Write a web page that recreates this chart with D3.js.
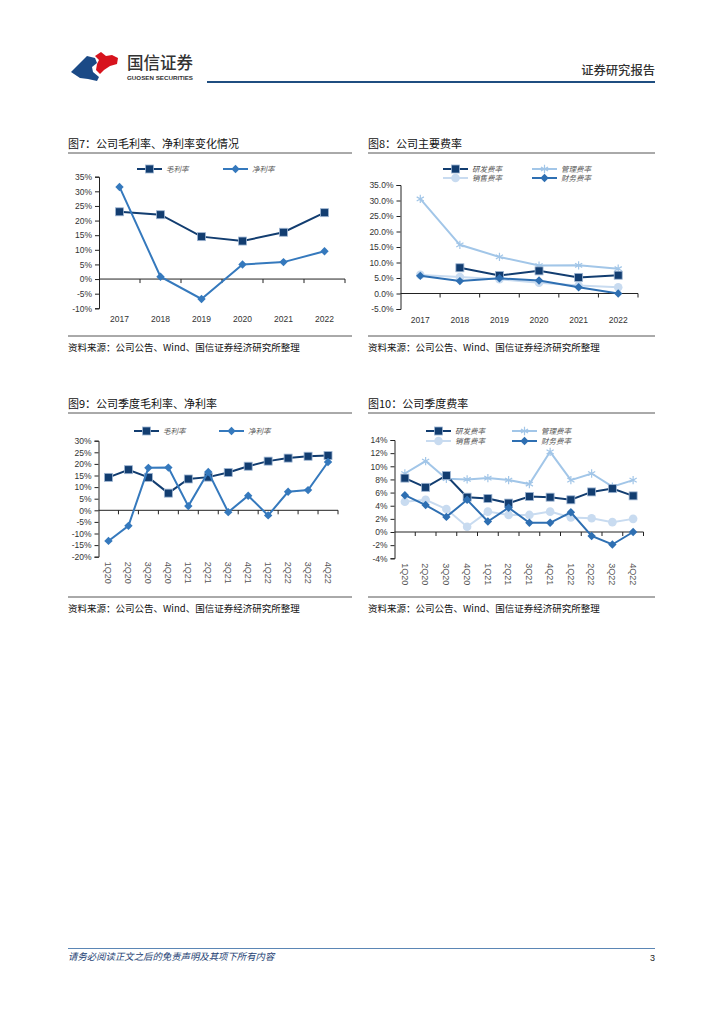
<!DOCTYPE html>
<html><head><meta charset="utf-8">
<script src="https://cdn.jsdelivr.net/npm/d3@7/dist/d3.min.js"></script>
<style>
html,body{margin:0;padding:0;background:#fff;}
svg{display:block;}
text{font-family:"Noto Sans CJK SC","Noto Sans",sans-serif;}
.num{font-family:"Liberation Sans",Arial,sans-serif;}
</style></head>
<body>
<svg id="page" width="724" height="1024"></svg>
<script>
// ---------- DATA ----------
const years = ["2017","2018","2019","2020","2021","2022"];
const quarters = ["1Q20","2Q20","3Q20","4Q20","1Q21","2Q21","3Q21","4Q21","1Q22","2Q22","3Q22","4Q22"];

// 图7 annual margins (%)
const annualGross = [23.0, 22.0, 14.5, 13.0, 16.0, 22.7];
const annualNet   = [31.5, 0.8, -6.8, 5.0, 5.8, 9.5];

// 图8 annual expense ratios (%)
const annualRD    = [null, 8.3, 5.8, 7.3, 5.2, 5.9];
const annualAdmin = [30.5, 15.7, 11.8, 9.0, 9.1, 8.0];
const annualSales = [6.0, 5.3, 4.6, 3.5, 2.6, 2.0];
const annualFin   = [5.7, 4.0, 4.9, 4.2, 2.0, 0.0];

// 图9 quarterly margins (%)
const qGross = [14.2, 17.5, 14.2, 7.4, 13.5, 14.3, 16.3, 19.0, 21.2, 22.5, 23.3, 23.6];
const qNet   = [-13.2, -6.7, 18.3, 18.4, 1.8, 16.5, -0.8, 6.3, -2.2, 8.0, 8.7, 20.8];

// 图10 quarterly expense ratios (%)
const qRD    = [8.2, 6.8, 8.6, 5.3, 5.1, 4.4, 5.4, 5.3, 4.9, 6.1, 6.6, 5.5];
const qAdmin = [8.9, 10.8, 8.1, 8.0, 8.2, 7.9, 7.3, 12.2, 7.9, 8.9, 6.9, 7.9];
const qSales = [4.6, 4.9, 3.5, 0.8, 3.1, 2.6, 2.6, 3.1, 2.2, 2.1, 1.5, 2.0];
const qFin   = [5.6, 4.1, 2.3, 4.9, 1.6, 3.7, 1.4, 1.4, 3.0, -0.6, -1.9, 0.0];

const ticks7  = [-10,-5,0,5,10,15,20,25,30,35];
const ticks8  = [-5,0,5,10,15,20,25,30,35];
const ticks9  = [-20,-15,-10,-5,0,5,10,15,20,25,30];
const ticks10 = [-4,-2,0,2,4,6,8,10,12,14];

const sourceText = "资料来源：公司公告、Wind、国信证券经济研究所整理";

// ---------- STYLES ----------
const C = {
  navy:"#123d70", mid:"#3579bd", light:"#a2c6e8", pale:"#c8dbf0"
};
const svg = d3.select("#page");

// ---------- HEADER ----------
const hdr = svg.append("g");
hdr.append("path").attr("d","M71,72 L87,56 L95,58 L97,63 L92,67 L93,72 L99,77 L97,81 L88,79 L80,78 Z").attr("fill","#1b4a86");
hdr.append("path").attr("d","M95,56 L101,52 L106,56 L112,55 L118,58 L117,64 L110,66 L104,70 L100,74 L96,70 L97,64 L99,60 Z").attr("fill","#d7131d");
hdr.append("text").attr("x",127).attr("y",69).attr("font-size",16.5).attr("fill","#333").attr("font-weight",500).text("国信证券");
hdr.append("text").attr("x",127).attr("y",80).attr("font-size",6.2).attr("fill","#333").attr("font-weight",700)
  .attr("class","num").attr("textLength",66).text("GUOSEN SECURITIES");
hdr.append("text").attr("x",655).attr("y",74.5).attr("text-anchor","end").attr("font-size",12.3).attr("fill","#333").attr("font-weight",500).text("证券研究报告");
hdr.append("line").attr("x1",207).attr("x2",655).attr("y1",82).attr("y2",82).attr("stroke","#1f4e80").attr("stroke-width",2.2);

// ---------- FOOTER ----------
svg.append("line").attr("x1",68).attr("x2",655).attr("y1",948.5).attr("y2",948.5).attr("stroke","#5b86b5").attr("stroke-width",1);
svg.append("text").attr("x",68).attr("y",960).attr("font-size",9.4).attr("font-style","italic").attr("fill","#1e3f74")
  .text("请务必阅读正文之后的免责声明及其项下所有内容");
svg.append("text").attr("x",655).attr("y",961).attr("text-anchor","end").attr("font-size",9).attr("class","num").attr("fill","#222").text("3");

// ---------- CHART HELPER ----------
function marker(g, type, color, x, y){
  if(type==="square"){
    g.append("rect").attr("x",x-4).attr("y",y-4).attr("width",8).attr("height",8)
      .attr("fill",color).attr("stroke","#9fb6d3").attr("stroke-width",0.8);
  } else if(type==="diamond"){
    g.append("path").attr("d","M0,-4.2L4.2,0L0,4.2L-4.2,0Z").attr("transform",`translate(${x},${y})`).attr("fill",color);
  } else if(type==="circle"){
    g.append("circle").attr("cx",x).attr("cy",y).attr("r",4.3).attr("fill",color);
  } else if(type==="asterisk"){
    g.append("path").attr("d",d3.symbol(d3.symbolAsterisk,48)()).attr("transform",`translate(${x},${y})`)
      .attr("fill","none").attr("stroke",color).attr("stroke-width",1.2);
  }
}

function drawChart(cfg){
  const g = svg.append("g");
  g.append("text").attr("x",cfg.left).attr("y",cfg.titleY).attr("font-size",11).attr("fill","#111").text(cfg.title);
  g.append("line").attr("x1",cfg.left).attr("x2",cfg.right).attr("y1",cfg.titleY+5).attr("y2",cfg.titleY+5).attr("stroke","#555").attr("stroke-width",1);
  g.append("line").attr("x1",cfg.left).attr("x2",cfg.right).attr("y1",cfg.srcY).attr("y2",cfg.srcY).attr("stroke","#555").attr("stroke-width",1);
  g.append("text").attr("x",cfg.left).attr("y",cfg.srcY+15).attr("font-size",9.5).attr("fill","#111").text(sourceText);

  const x = d3.scaleBand().domain(cfg.cats).range([cfg.x0,cfg.x1]).paddingInner(0).paddingOuter(0);
  const y = d3.scaleLinear().domain([cfg.ticks[0], cfg.ticks[cfg.ticks.length-1]]).range([cfg.yBottom,cfg.yTop]);

  const ya = g.append("g").attr("transform",`translate(${cfg.x0},0)`)
    .call(d3.axisLeft(y).tickValues(cfg.ticks).tickSize(4).tickPadding(3).tickFormat(cfg.fmt));
  ya.selectAll("text").attr("class","num").attr("font-size",8.5).attr("fill","#333").attr("font-family","Liberation Sans, Arial, sans-serif");
  ya.selectAll("line,path").attr("stroke","#222");

  const y0 = y(0);
  g.append("line").attr("x1",cfg.x0).attr("x2",cfg.x1).attr("y1",y0).attr("y2",y0).attr("stroke","#222");
  g.selectAll(null).data(cfg.cats).enter().append("line")
    .attr("x1",d=>x(d)+x.bandwidth()).attr("x2",d=>x(d)+x.bandwidth())
    .attr("y1",y0).attr("y2",y0+4).attr("stroke","#222");

  if(cfg.rotate){
    g.selectAll(null).data(cfg.cats).enter().append("text")
      .attr("class","num").attr("font-family","Liberation Sans, Arial, sans-serif")
      .attr("font-size",9).attr("fill","#555")
      .attr("transform",d=>`translate(${x(d)+x.bandwidth()/2-3.2},${cfg.yBottom+5}) rotate(90)`)
      .attr("text-anchor","start").text(d=>d);
  } else {
    g.selectAll(null).data(cfg.cats).enter().append("text")
      .attr("class","num").attr("font-family","Liberation Sans, Arial, sans-serif")
      .attr("font-size",8.5).attr("fill","#333").attr("text-anchor","middle")
      .attr("x",d=>x(d)+x.bandwidth()/2).attr("y",cfg.yBottom+14).text(d=>d);
  }

  cfg.series.forEach(s=>{
    const pts = cfg.cats.map((c,i)=>({c, v:s.values[i]}));
    const line = d3.line().defined(d=>d.v!==null).x(d=>x(d.c)+x.bandwidth()/2).y(d=>y(d.v));
    g.append("path").datum(pts).attr("d",line).attr("fill","none").attr("stroke",s.color).attr("stroke-width",2);
    pts.filter(d=>d.v!==null).forEach(d=>marker(g,s.marker,s.markerColor||s.color,x(d.c)+x.bandwidth()/2,y(d.v)));
  });
  cfg.series.forEach(s=>{
    const L = s.legend;
    g.append("line").attr("x1",L.x).attr("x2",L.x+25).attr("y1",L.y).attr("y2",L.y).attr("stroke",s.color).attr("stroke-width",2);
    marker(g,s.marker,s.markerColor||s.color,L.x+12.5,L.y);
    g.append("text").attr("x",L.x+29).attr("y",L.y+2.7).attr("font-size",7.5).attr("fill","#555").attr("font-style","italic").text(s.name);
  });
}

const pct0 = d=>d+"%";
const pct1 = d=>d.toFixed(1)+"%";

drawChart({
  title:"图7：公司毛利率、净利率变化情况", left:68, right:352, titleY:148, srcY:336,
  cats:years, x0:99, x1:345, yTop:176.7, yBottom:308.3, ticks:ticks7, fmt:pct0, rotate:false,
  series:[
    {name:"毛利率", values:annualGross, color:C.navy, marker:"square", legend:{x:137,y:169}},
    {name:"净利率", values:annualNet, color:C.mid, marker:"diamond", legend:{x:223,y:169}}
  ]
});
drawChart({
  title:"图8：公司主要费率", left:368, right:655, titleY:148, srcY:336,
  cats:years, x0:400.5, x1:638, yTop:185, yBottom:309, ticks:ticks8, fmt:pct1, rotate:false,
  series:[
    {name:"管理费率", values:annualAdmin, color:C.light, marker:"asterisk", legend:{x:532,y:169}},
    {name:"销售费率", values:annualSales, color:C.pale, marker:"circle", legend:{x:443,y:178}},
    {name:"研发费率", values:annualRD, color:C.navy, marker:"square", legend:{x:443,y:169}},
    {name:"财务费率", values:annualFin, color:"#2e6fb2", marker:"diamond", legend:{x:532,y:178}}
  ]
});
drawChart({
  title:"图9：公司季度毛利率、净利率", left:68, right:352, titleY:408, srcY:597,
  cats:quarters, x0:98.5, x1:338, yTop:440.7, yBottom:556.7, ticks:ticks9, fmt:pct0, rotate:true,
  series:[
    {name:"毛利率", values:qGross, color:C.navy, marker:"square", legend:{x:134,y:431}},
    {name:"净利率", values:qNet, color:C.mid, marker:"diamond", legend:{x:219,y:431}}
  ]
});
drawChart({
  title:"图10：公司季度费率", left:368, right:655, titleY:408, srcY:597,
  cats:quarters, x0:394.5, x1:643.5, yTop:440, yBottom:558.3, ticks:ticks10, fmt:pct0, rotate:true,
  series:[
    {name:"管理费率", values:qAdmin, color:C.light, marker:"asterisk", legend:{x:512,y:431}},
    {name:"销售费率", values:qSales, color:C.pale, marker:"circle", legend:{x:426,y:441}},
    {name:"研发费率", values:qRD, color:C.navy, marker:"square", legend:{x:426,y:431}},
    {name:"财务费率", values:qFin, color:"#2e6fb2", marker:"diamond", legend:{x:512,y:441}}
  ]
});
</script>
</body></html>
